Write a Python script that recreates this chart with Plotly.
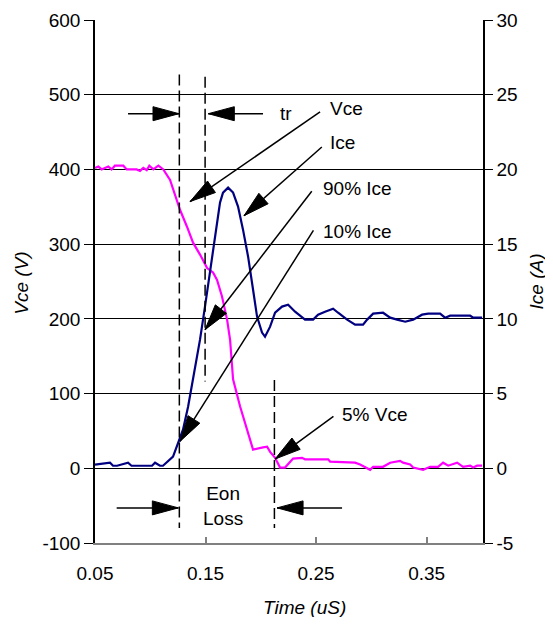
import math
import plotly.graph_objects as go

# Vce (V) against time (uS)
vce_t = [0.050, 0.053, 0.056, 0.062, 0.065, 0.068, 0.0756, 0.0787, 0.0877, 0.0907,
         0.0937, 0.0968, 0.0991, 0.1028, 0.1073, 0.1104, 0.1118, 0.1179, 0.1242, 0.1269,
         0.1333, 0.1387, 0.1450, 0.1514, 0.1568, 0.1604, 0.1649, 0.1695, 0.1722, 0.1749,
         0.1812, 0.1876, 0.1903, 0.1930, 0.2020, 0.2057, 0.2084, 0.2129, 0.2174, 0.2219,
         0.2292, 0.2373, 0.2400, 0.2609, 0.2627, 0.2853, 0.2898, 0.2989, 0.3016, 0.3106,
         0.3170, 0.3260, 0.3287, 0.3351, 0.3378, 0.3468, 0.3532, 0.3604, 0.3649, 0.3695,
         0.3776, 0.3830, 0.3894, 0.3921, 0.3957, 0.4002]
vce_v = [402, 404, 400, 404, 400, 405, 405, 400, 400, 398,
         402, 399, 405, 400, 405, 402, 400, 386, 359, 346,
         323, 302, 286, 268, 262, 252, 230, 199, 172, 119,
         83, 52, 36, 25, 28, 29, 22, 14, 1, 1,
         13, 14, 12, 12, 9, 7.5, 5, -2, 2, 2,
         7.5, 10, 7.5, 5, 1, -2, 2, 2, 7.5, 3.5,
         7.5, 2, 3.5, 1, 3.5, 3.5]

# Ice (A) against time (uS)
ice_t = [0.050, 0.0636, 0.0663, 0.0700, 0.0799, 0.0830, 0.1016, 0.1043, 0.1088, 0.1115,
         0.1206, 0.1251, 0.1296, 0.1342, 0.1387, 0.1450, 0.1495, 0.1541, 0.1586, 0.1631,
         0.1658, 0.1704, 0.1749, 0.1794, 0.1839, 0.1885, 0.1930, 0.1966, 0.2011, 0.2038,
         0.2084, 0.2129, 0.2192, 0.2247, 0.2310, 0.2400, 0.2473, 0.2518, 0.2581, 0.2654,
         0.2699, 0.2781, 0.2853, 0.2925, 0.2962, 0.3016, 0.3106, 0.3170, 0.3233, 0.3306,
         0.3378, 0.3459, 0.3514, 0.3622, 0.3667, 0.3713, 0.3894, 0.3921, 0.4002]
ice_a = [0.24, 0.37, 0.17, 0.17, 0.37, 0.17, 0.17, 0.37, 0.17, 0.17,
         0.78, 1.71, 2.58, 4.12, 5.93, 8.61, 10.82, 13.09, 15.50, 17.78,
         18.45, 18.78, 18.45, 17.51, 15.97, 14.16, 11.95, 10.15, 9.08, 8.81,
         9.48, 10.41, 10.82, 10.95, 10.48, 9.95, 9.95, 10.28, 10.48, 10.68,
         10.41, 9.95, 9.61, 9.61, 9.95, 10.35, 10.41, 10.08, 9.95, 9.81,
         9.95, 10.28, 10.35, 10.35, 10.08, 10.21, 10.21, 10.08, 10.08]

# tick labels
vce_ticks = [-100, 0, 100, 200, 300, 400, 500, 600]
ice_ticks = [-5, 0, 5, 10, 15, 20, 25, 30]
time_ticks = [0.05, 0.15, 0.25, 0.35]

# dashed time markers (10% Ice, 90% Ice, 5% Vce) and their extents in V
mark_t = [0.1263, 0.1496, 0.2123]
mark_top = [527, 524, 118]
mark_bot = [-80, 116, -80]

# arrows: tail (t, V) -> tip (t, V)
arrows = [
    (0.0799, 474.6, 0.1260, 474.6),
    (0.2020, 474.6, 0.1525, 474.6),
    (0.2536, 477, 0.1360, 357),
    (0.2552, 430, 0.1848, 338),
    (0.2461, 370.7, 0.1495, 185.5),
    (0.2476, 318.5, 0.1269, 36),
    (0.2657, 69.5, 0.2129, 12.4),
    (0.0696, -53, 0.1254, -53),
    (0.2735, -53, 0.2147, -53),
]
labels = ["tr", "Vce", "Ice", "90% Ice", "10% Ice", "5% Vce", "Eon<br>Loss"]
label_t = [0.2224, 0.2771, 0.2735, 0.2871, 0.2871, 0.3025, 0.1660]
label_v = [475, 481, 436.5, 375, 317, 72.4, -51]

# page body has an 8px margin, so the figure is shifted and a bit smaller than the window
W, H = 545, 609
ML, MR, MT, MB = 87, 70, 12, 74
X_RANGE = [0.05, 0.401]
Y_RANGE = [-100, 600]
PX_T = (W - ML - MR) / (X_RANGE[1] - X_RANGE[0])
PX_V = (H - MT - MB) / (Y_RANGE[1] - Y_RANGE[0])
FONT = "Liberation Sans, Arial, sans-serif"
FS = 19

fig = go.Figure()
fig.add_trace(go.Scatter(x=vce_t, y=vce_v, mode="lines", name="Vce",
                         line=dict(color="#FF00FF", width=2.2)))
fig.add_trace(go.Scatter(x=ice_t, y=ice_a, mode="lines", name="Ice", yaxis="y2",
                         line=dict(color="#000080", width=2.2)))

for t, y0, y1 in zip(mark_t, mark_top, mark_bot):
    fig.add_shape(type="line", x0=t, x1=t, y0=y0, y1=y1, xref="x", yref="y",
                  line=dict(color="black", width=1.5, dash="11px,5px"))


def arrow(t0, v0, t1, v1, head_len=26, half_w=7):
    fig.add_shape(type="line", x0=t0, y0=v0, x1=t1, y1=v1, xref="x", yref="y",
                  line=dict(color="black", width=1.5))
    dx = (t1 - t0) * PX_T
    dy = (v1 - v0) * PX_V
    n = math.hypot(dx, dy)
    ux, uy = dx / n, dy / n
    bx, by = -ux * head_len, -uy * head_len
    p1 = (bx - uy * half_w, by + ux * half_w)
    p2 = (bx + uy * half_w, by - ux * half_w)
    path = f"M0,0 L{p1[0]:.2f},{p1[1]:.2f} L{p2[0]:.2f},{p2[1]:.2f} Z"
    fig.add_shape(type="path", xref="x", yref="y", xsizemode="pixel", ysizemode="pixel",
                  xanchor=t1, yanchor=v1, path=path, fillcolor="black",
                  line=dict(color="black", width=1))


for a in arrows:
    arrow(*a)

for txt, t, v in zip(labels, label_t, label_v):
    fig.add_annotation(x=t, y=v, xref="x", yref="y", text=txt, showarrow=False,
                       xanchor="center", yanchor="middle", align="center",
                       font=dict(family=FONT, size=FS, color="black"))

# axis titles
title_font = dict(family=FONT, size=FS, color="black")
fig.add_annotation(x=-0.188, y=0.496, xref="paper", yref="paper", text="<i>Vce (V)</i>",
                   textangle=-90, showarrow=False, xanchor="center", yanchor="middle",
                   font=title_font)
fig.add_annotation(x=1.139, y=0.5, xref="paper", yref="paper", text="<i>Ice (A)</i>",
                   textangle=-90, showarrow=False, xanchor="center", yanchor="middle",
                   font=title_font)
fig.add_annotation(x=0.539, y=-0.124, xref="paper", yref="paper", text="<i>Time (uS)</i>",
                   showarrow=False, xanchor="center", yanchor="middle", font=title_font)

fig.update_layout(
    width=W, height=H,
    margin=dict(l=ML, r=MR, t=MT, b=MB),
    paper_bgcolor="white", plot_bgcolor="white",
    showlegend=False,
    font=dict(family=FONT, size=FS, color="black"),
    xaxis=dict(range=X_RANGE, tickvals=time_ticks, ticktext=[f"{v:.2f}" for v in time_ticks],
               ticks="inside", ticklen=6, tickcolor="#808080", tickwidth=1.5,
               ticklabelstandoff=12,
               showline=True, linecolor="#808080", linewidth=2,
               showgrid=False, zeroline=False, automargin=False),
    yaxis=dict(range=Y_RANGE, tickvals=vce_ticks, ticktext=[str(v) for v in vce_ticks],
               ticks="outside", ticklen=9, tickcolor="black",
               showline=True, linecolor="black", linewidth=1.5,
               showgrid=True, gridcolor="black", gridwidth=1, zeroline=False,
               automargin=False),
    yaxis2=dict(range=[-5, 30], tickvals=ice_ticks, ticktext=[str(v) for v in ice_ticks],
                overlaying="y", side="right",
                ticks="outside", ticklen=8, tickcolor="black",
                showline=True, linecolor="black", linewidth=1.5,
                showgrid=False, zeroline=False, automargin=False),
)

fig.write_html("out.html")
